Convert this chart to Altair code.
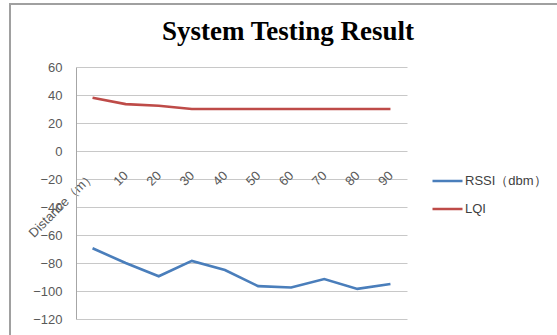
import altair as alt
import pandas as pd

categories = ["Distance（m）", "10", "20", "30", "40", "50", "60", "70", "80", "90"]
rssi = [-69.5, -80, -89.5, -78.5, -85, -96.5, -97.5, -91.5, -98.5, -95]
lqi = [38, 33.5, 32.3, 30, 30, 30, 30, 30, 30, 30]
series_names = ["RSSI（dbm）", "LQI"]
series_colors = ["#4a7ebb", "#be4b48"]
y_ticks = [-120, -100, -80, -60, -40, -20, 0, 20, 40, 60]
title_text = "System Testing Result"

rows = []
for i, c in enumerate(categories):
    rows.append({"cat": c, "series": series_names[0], "value": rssi[i], "order": i})
    rows.append({"cat": c, "series": series_names[1], "value": lqi[i], "order": i})
df = pd.DataFrame(rows)

FONT = "Liberation Sans"

lines = alt.Chart(df).mark_line(strokeWidth=2.6).encode(
    x=alt.X("cat:N", sort=categories,
            scale=alt.Scale(type="point", padding=0.5),
            axis=alt.Axis(title=None, orient="bottom", offset=-140, domain=False,
                          ticks=False, grid=False, labelAngle=315, labelAlign="right",
                          labelBaseline="middle", labelPadding=-6, labelFont=FONT,
                          labelFontSize=13, labelColor="#595959")),
    y=alt.Y("value:Q", scale=alt.Scale(domain=[-120, 60], nice=False, zero=False),
            axis=alt.Axis(title=None, values=y_ticks, ticks=False, domain=True,
                          domainColor="#a6a6a6", grid=True, gridColor="#c8c8c8",
                          labelFont=FONT, labelFontSize=13, labelColor="#595959",
                          labelPadding=14)),
    color=alt.Color("series:N",
                    scale=alt.Scale(domain=series_names, range=series_colors),
                    legend=alt.Legend(title=None, orient="none", legendX=355, legendY=106,
                                      symbolType="stroke", symbolSize=900,
                                      symbolStrokeWidth=2.6, labelFont=FONT,
                                      labelFontSize=13, labelColor="#404040",
                                      rowPadding=12, labelOffset=1, clipHeight=16)),
    order="order:Q",
)

title = alt.Chart(pd.DataFrame({"t": [title_text]})).mark_text(
    font="Liberation Serif", fontSize=27, fontWeight="bold", color="#000000",
    align="center", baseline="alphabetic").encode(
    text="t:N", x=alt.value(212), y=alt.value(-27))

frame_top = alt.Chart(df).mark_rule(color="#a0a0a0", strokeWidth=2).encode(
    x=alt.value(-66), x2=alt.value(481), y=alt.value(-63))
frame_left = alt.Chart(df).mark_rule(color="#a0a0a0", strokeWidth=2).encode(
    x=alt.value(-66), y=alt.value(-64), y2=alt.value(268))

chart = alt.layer(lines, title, frame_top, frame_left).properties(
    width=331, height=252,
    padding={"left": 76, "top": 67, "right": 150, "bottom": 16},
    autosize=alt.AutoSizeParams(type="none"),
).configure_view(stroke=None)

chart.save("out.html", embed_options={"renderer": "svg", "actions": False})
